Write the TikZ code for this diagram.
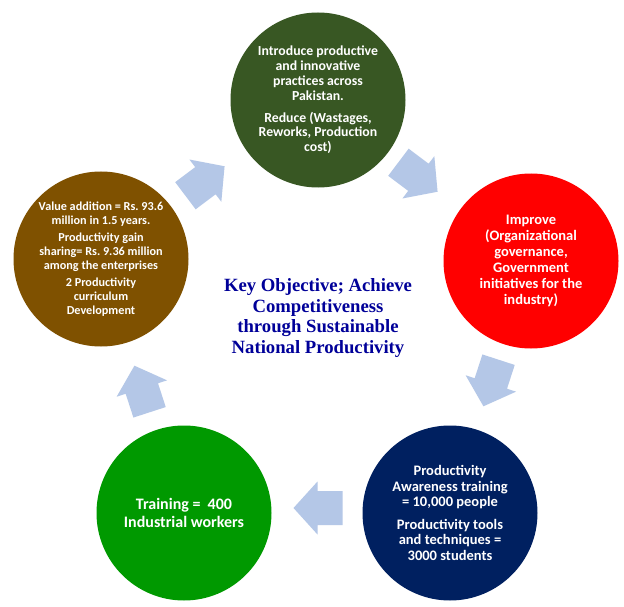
\documentclass[tikz,border=0pt]{standalone}
\usepackage{fontspec}
\setmainfont{Carlito}
\newfontfamily\timesfont{Liberation Serif}
\usetikzlibrary{calc}
\definecolor{cTop}{RGB}{56,87,35}
\definecolor{cRed}{RGB}{255,0,0}
\definecolor{cNavy}{RGB}{0,32,96}
\definecolor{cGreen}{RGB}{0,153,0}
\definecolor{cBrown}{RGB}{127,81,0}
\definecolor{cArrow}{RGB}{180,199,231}
\definecolor{cTitle}{RGB}{0,0,153}
\frenchspacing
\begin{document}
\begin{tikzpicture}[x=1pt,y=-1pt,
  disc/.style={circle, minimum size=175pt, inner sep=0pt, text=white, align=center},
  blockarrow/.pic={\fill[cArrow] (-24.5,-17) -- (0.5,-17) -- (0.5,-26.5) -- (24.5,0) -- (0.5,26.5) -- (0.5,17) -- (-24.5,17) -- cycle;}
]
\fill[white] (0,0) rectangle (624,607);
\useasboundingbox (0,0) rectangle (624,607);

\node[disc, fill=cTop, font=\bfseries\fontsize{13.8}{14.8}\selectfont] (top) at (318,100)
  {Introduce productive\\and innovative\\practices across\\Pakistan.\\[7pt]Reduce (Wastages,\\Reworks, Production\\cost)};
\node[disc, fill=cRed, font=\bfseries\fontsize{14.5}{16}\selectfont] (red) at (531,261)
  {Improve\\(Organizational\\governance,\\Government\\initiatives for the\\industry)};
\node[disc, fill=cNavy, font=\bfseries\fontsize{14.5}{15.4}\selectfont] (navy) at (450,513)
  {Productivity\\Awareness training\\= 10,000 people\\[7.5pt]Productivity tools\\and techniques =\\3000 students};
\node[disc, fill=cGreen, font=\bfseries\fontsize{16}{18}\selectfont] (green) at (184,513)
  {Training =~ 400\\Industrial workers};
\node[disc, fill=cBrown, font=\bfseries\fontsize{12.2}{13.8}\selectfont] (brown) at (101,259)
  {Value addition = Rs. 93.6\\million in 1.5 years.\\[3.8pt]Productivity gain\\sharing= Rs. 9.36 million\\among the enterprises\\[3.8pt]2 Productivity\\curriculum\\Development};

\node[font=\timesfont\bfseries\fontsize{18.7}{20.7}\selectfont, text=cTitle, align=center] (key) at (318,318)
  {Key Objective; Achieve\\Competitiveness\\through Sustainable\\National Productivity};

\coordinate (a1) at (205,181);
\coordinate (a2) at (418,177);
\coordinate (a3) at (491,383);
\coordinate (a4) at (318,508);
\coordinate (a5) at (142,389);
\pic[rotate=37] at (a1) {blockarrow};
\pic[rotate=-37] at (a2) {blockarrow};
\pic[rotate=-108] at (a3) {blockarrow};
\pic[rotate=180] at (a4) {blockarrow};
\pic[rotate=108] at (a5) {blockarrow};
\end{tikzpicture}
\end{document}
